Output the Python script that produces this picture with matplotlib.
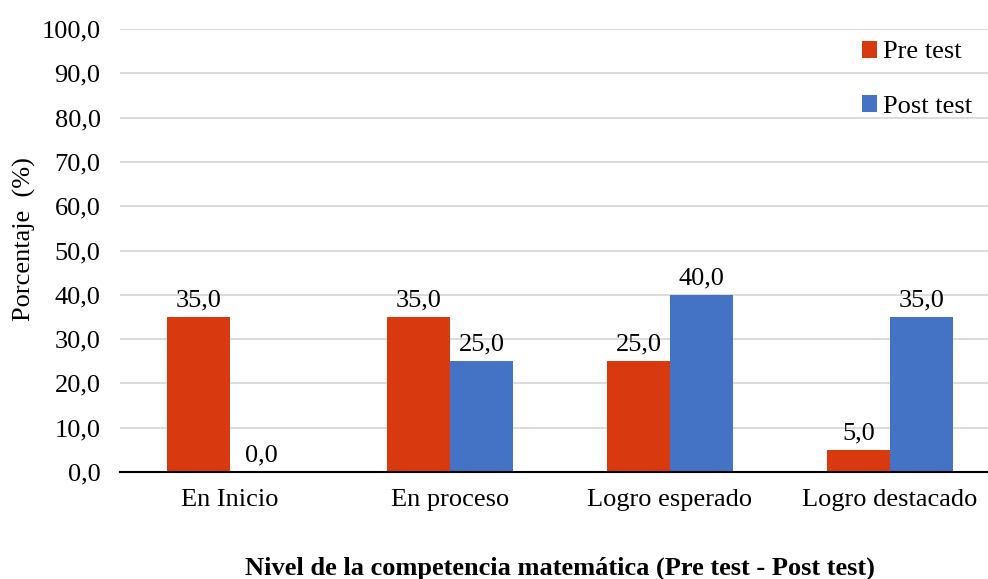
import matplotlib.pyplot as plt
import numpy as np

plt.rcParams['font.family'] = ['Liberation Serif', 'DejaVu Serif']

niveles = ["En Inicio", "En proceso", "Logro esperado", "Logro destacado"]
pre_test = [35.0, 35.0, 25.0, 5.0]
post_test = [0.0, 25.0, 40.0, 35.0]

fs = 19

fig = plt.figure(figsize=(9.88, 5.79), dpi=100)
ax = fig.add_axes([120 / 988, 1 - 472 / 579, 880 / 988, (472 - 29) / 579])

x = np.arange(len(niveles))
w = 0.286
b1 = ax.bar(x - w / 2, pre_test, w, color="#D9390E", label="Pre test", zorder=3)
b2 = ax.bar(x + w / 2, post_test, w, color="#4472C4", label="Post test", zorder=3)

for bars, vals in ((b1, pre_test), (b2, post_test)):
    for r, v in zip(bars, vals):
        ax.text(r.get_x() + r.get_width() / 2, v + 1.2, f"{v:.1f}".replace(".", ","),
                ha="center", va="bottom", fontsize=fs)

ax.set_xlim(-0.5, 3.5)
ax.set_ylim(0, 100)
ax.set_yticks(np.arange(0, 101, 10))
ax.set_yticklabels([f"{t:.1f}".replace(".", ",") for t in np.arange(0, 101, 10)])
ax.set_xticks(x)
ax.set_xticklabels(niveles)
ax.tick_params(axis="both", length=0, labelsize=fs)
ax.tick_params(axis="x", pad=12)
ax.tick_params(axis="y", pad=14)
ax.yaxis.grid(True, color="#d9d9d9", linewidth=1.3, zorder=0)
for s in ("top", "right", "left"):
    ax.spines[s].set_visible(False)
ax.spines["bottom"].set_color("black")
ax.spines["bottom"].set_linewidth(1.5)
ax.spines["bottom"].set_zorder(4)

ax.set_ylabel("Porcentaje  (%)", fontsize=fs)
ax.yaxis.set_label_coords(-0.095, 0.525)
ax.set_xlabel("Nivel de la competencia matemática (Pre test - Post test)",
              fontsize=fs, fontweight="bold", labelpad=33)

ax.legend(loc="upper right", bbox_to_anchor=(0.995, 1.027), frameon=False, fontsize=fs,
          handlelength=0.6, handleheight=0.6, handletextpad=0.2, labelspacing=1.2)

fig.savefig("out.png", dpi=100)
